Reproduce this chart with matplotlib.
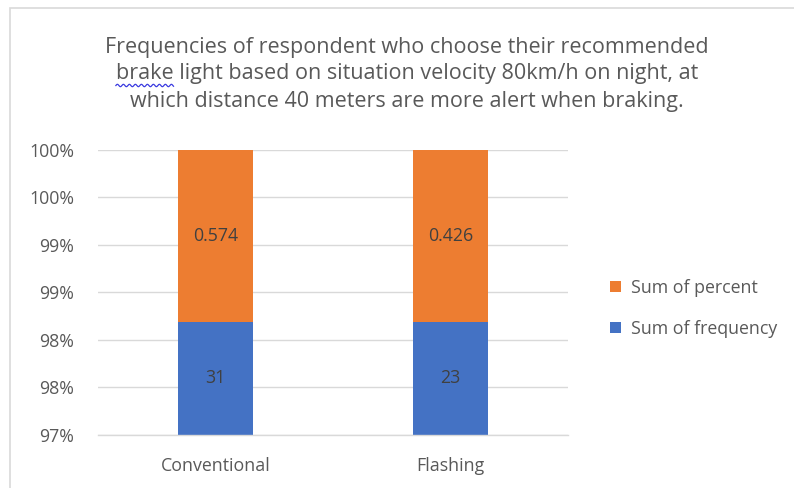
import matplotlib
matplotlib.use("Agg")
import matplotlib.pyplot as plt
from matplotlib.ticker import FuncFormatter, MultipleLocator
from matplotlib.patches import Rectangle
from matplotlib.lines import Line2D
import numpy as np
import math

categories = ["Conventional", "Flashing"]
sum_frequency = [31, 23]
sum_percent = [0.574, 0.426]
series_names = ["Sum of frequency", "Sum of percent"]
y_min, y_max, y_step = 0.97, 1.00, 0.005
title_lines = ["Frequencies of respondent who choose their recommended",
               "brake light based on situation velocity 80km/h on night, at",
               "which distance 40 meters are more alert when braking."]

plt.rcParams['font.family'] = ['Open Sans', 'DejaVu Sans']

BLUE = "#4472C4"
ORANGE = "#ED7D31"
GRID = "#D9D9D9"
TXT = "#595959"
LBL = "#404040"
FS = 12.8
TFS = 15.5

fig = plt.figure(figsize=(7.94, 4.88), dpi=100)
fig.patch.set_facecolor("white")
W, H = 794, 488

# outer chart border (cropped screenshot)
fig.add_artist(Rectangle((10 / W, -0.1), 1.2, 1 - 8 / H + 0.1, transform=fig.transFigure,
                         fill=False, edgecolor="#D9D9D9", linewidth=1.2))

ax = fig.add_axes([98 / W, 1 - 434.5 / H, (568 - 98) / W, (434.5 - 150) / H])

totals = np.array(sum_frequency, dtype=float) + np.array(sum_percent, dtype=float)
share_freq = np.array(sum_frequency) / totals
share_pct = np.array(sum_percent) / totals
x = np.arange(len(categories))
bw = 0.315

ax.bar(x, share_freq, width=bw, color=BLUE, zorder=2, label=series_names[0])
ax.bar(x, share_pct, width=bw, bottom=share_freq, color=ORANGE, zorder=2, label=series_names[1])

ax.set_ylim(y_min, y_max)
ax.set_xlim(-0.5, 1.5)
ax.yaxis.set_major_locator(MultipleLocator(y_step))

def fmt(v, pos):
    return f"{math.floor(v * 100 + 0.5 + 1e-9):d}%"

ax.yaxis.set_major_formatter(FuncFormatter(fmt))
ax.grid(axis="y", color=GRID, linewidth=1.0, zorder=0)
for s in ["top", "right", "left"]:
    ax.spines[s].set_visible(False)
ax.spines["bottom"].set_color(GRID)
ax.spines["bottom"].set_linewidth(1.0)
ax.tick_params(axis="both", length=0, labelsize=FS, colors=TXT)
ax.tick_params(axis="y", pad=17)
ax.tick_params(axis="x", pad=16)
ax.set_xticks(x)
ax.set_xticklabels(categories)

# data labels at centre of visible part of each segment
for i in range(len(categories)):
    lo = max(y_min, 0)
    ax.text(x[i], (lo + share_freq[i]) / 2, f"{sum_frequency[i]}", ha="center", va="center",
            fontsize=FS, color=LBL, zorder=3)
    ax.text(x[i], share_freq[i] + share_pct[i] / 2, f"{sum_percent[i]}", ha="center", va="center",
            fontsize=FS, color=LBL, zorder=3)

# legend
handles, labels = ax.get_legend_handles_labels()
leg = fig.legend(handles[::-1], labels[::-1], loc="center left",
                 bbox_to_anchor=(598 / W, 1 - 308.5 / H), frameon=False,
                 fontsize=FS, labelcolor=TXT, handlelength=0.6, handleheight=0.6,
                 handletextpad=0.55, labelspacing=1.3, borderpad=0.2)

title_y = [47, 74, 101]
title_texts = []
for line, yy in zip(title_lines, title_y):
    t = fig.text(407 / W, 1 - yy / H, line, ha="center", va="center",
                 fontsize=TFS, color=TXT)
    title_texts.append(t)

# spell-check squiggle under the first word of the second title line
fig.canvas.draw()
r = fig.canvas.get_renderer()
bb = title_texts[1].get_window_extent(r)
word = title_lines[1].split()[0]
tmp = fig.text(0, 0, word, fontsize=TFS)
wbb = tmp.get_window_extent(r)
tmp.remove()
x0, x1 = bb.x0, bb.x0 + wbb.width
ybase = bb.y0 - 1
xs = np.linspace(x0, x1, 200)
ys = ybase + 1.2 * np.sin((xs - x0) / 6.0 * 2 * np.pi)
fig.add_artist(Line2D(xs / W, ys / H, transform=fig.transFigure, color="#3B3BE0", linewidth=0.9))

fig.savefig("out.png", dpi=100, facecolor="white")
